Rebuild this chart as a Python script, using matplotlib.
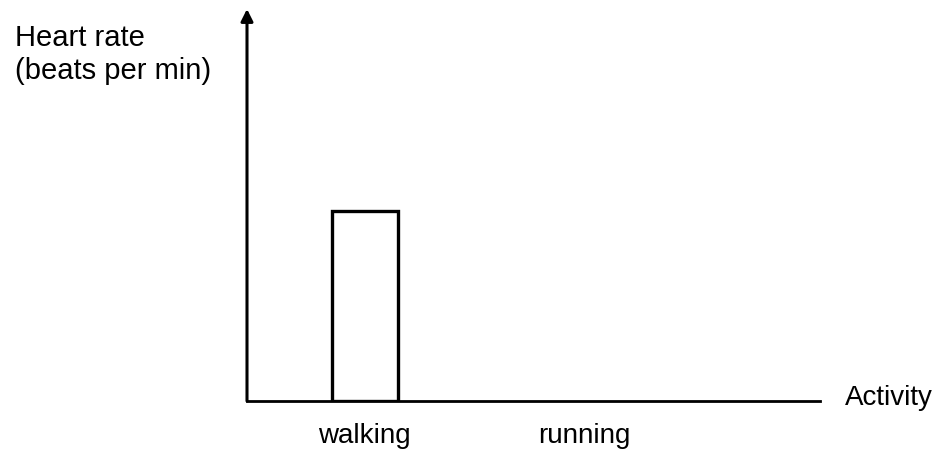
import matplotlib.pyplot as plt
import numpy as np

plt.rcParams['font.family'] = ['Liberation Sans', 'DejaVu Sans']

activities = ['walking', 'running']
heart_rate = [48.5, np.nan]   # running bar left blank, to be drawn in
y_label = 'Heart rate\n(beats per min)'
x_label = 'Activity'

fig = plt.figure(figsize=(9.41, 4.52), dpi=100)
# axes box: origin at (247, 402) px, top of y arrow ~10 px, x axis runs to ~820 px
ax = fig.add_axes([247/941, 50/452, 573/941, 392/452])

pos = np.arange(len(activities))
ax.bar(pos, heart_rate, width=0.3, facecolor='white', edgecolor='black', linewidth=2.4)

ax.set_xlim(-0.536, 2.07)
ax.set_ylim(0, 100)
ax.set_xticks(pos)
ax.set_xticklabels(activities, fontsize=20)
ax.tick_params(axis='x', length=0, pad=15)
ax.set_yticks([])

for s in ['top', 'right']:
    ax.spines[s].set_visible(False)
ax.spines['left'].set_visible(False)
ax.spines['bottom'].set_linewidth(2)

# y axis with arrowhead
ax.annotate('', xy=(0, 1.0), xytext=(0, 0), xycoords='axes fraction',
            arrowprops=dict(arrowstyle='-|>', color='black', lw=2.2,
                            mutation_scale=18, shrinkA=0, shrinkB=0))

ax.text(1.043, 0.01, x_label, transform=ax.transAxes, fontsize=20,
        ha='left', va='center')
fig.text(15/941, 1 - 24/452, y_label, fontsize=21, ha='left', va='top',
         linespacing=1.22)

fig.savefig('out.png', dpi=100)
plt.close()
